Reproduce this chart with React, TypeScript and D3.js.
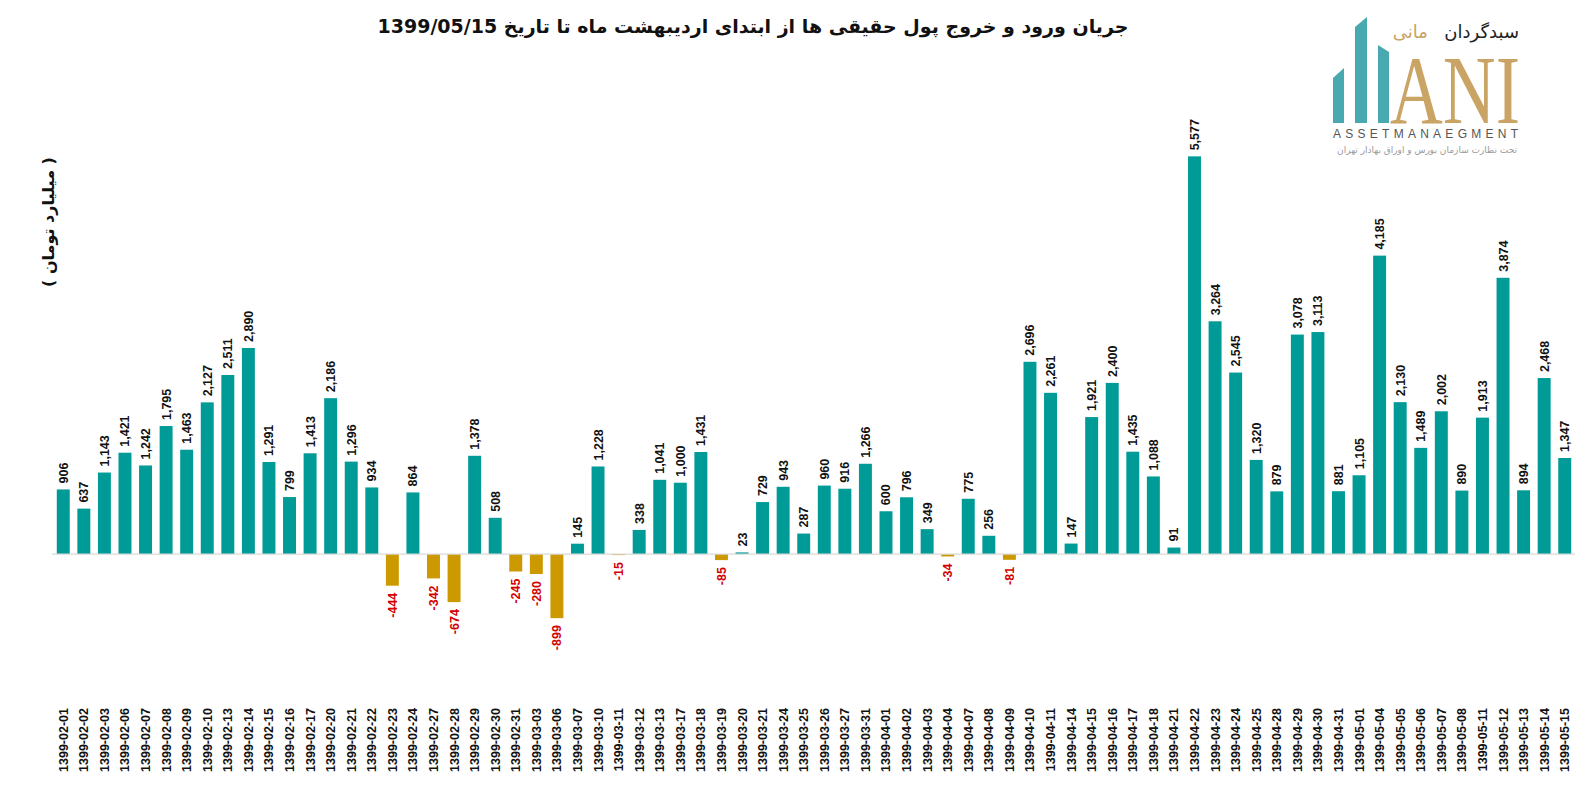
import React, { useEffect, useRef } from "react"
import * as d3 from "d3"

const WIDTH = 1587
const HEIGHT = 791

const dates = [
    "1399-02-01", "1399-02-02", "1399-02-03", "1399-02-06", "1399-02-07", "1399-02-08",
    "1399-02-09", "1399-02-10", "1399-02-13", "1399-02-14", "1399-02-15", "1399-02-16",
    "1399-02-17", "1399-02-20", "1399-02-21", "1399-02-22", "1399-02-23", "1399-02-24",
    "1399-02-27", "1399-02-28", "1399-02-29", "1399-02-30", "1399-02-31", "1399-03-03",
    "1399-03-06", "1399-03-07", "1399-03-10", "1399-03-11", "1399-03-12", "1399-03-13",
    "1399-03-17", "1399-03-18", "1399-03-19", "1399-03-20", "1399-03-21", "1399-03-24",
    "1399-03-25", "1399-03-26", "1399-03-27", "1399-03-31", "1399-04-01", "1399-04-02",
    "1399-04-03", "1399-04-04", "1399-04-07", "1399-04-08", "1399-04-09", "1399-04-10",
    "1399-04-11", "1399-04-14", "1399-04-15", "1399-04-16", "1399-04-17", "1399-04-18",
    "1399-04-21", "1399-04-22", "1399-04-23", "1399-04-24", "1399-04-25", "1399-04-28",
    "1399-04-29", "1399-04-30", "1399-04-31", "1399-05-01", "1399-05-04", "1399-05-05",
    "1399-05-06", "1399-05-07", "1399-05-08", "1399-05-11", "1399-05-12", "1399-05-13",
    "1399-05-14", "1399-05-15",
]

// میلیارد تومان
const flows = [
    906, 637, 1143, 1421, 1242, 1795,
    1463, 2127, 2511, 2890, 1291, 799,
    1413, 2186, 1296, 934, -444, 864,
    -342, -674, 1378, 508, -245, -280,
    -899, 145, 1228, -15, 338, 1041,
    1000, 1431, -85, 23, 729, 943,
    287, 960, 916, 1266, 600, 796,
    349, -34, 775, 256, -81, 2696,
    2261, 147, 1921, 2400, 1435, 1088,
    91, 5577, 3264, 2545, 1320, 879,
    3078, 3113, 881, 1105, 4185, 2130,
    1489, 2002, 890, 1913, 3874, 894,
    2468, 1347,
]

const TITLE = "جریان ورود و خروج پول حقیقی ها از ابتدای اردیبهشت ماه تا تاریخ 1399/05/15"
const Y_LABEL = "( میلیارد تومان )"

const TEAL = "#009b97"
const GOLD = "#cc9a00"
const RED = "#d40000"

const fmt = d3.formatLocale({
    decimal: ".",
    thousands: ",",
    grouping: [3],
    currency: ["", ""],
    minus: "-",
}).format(",")

const App: React.FC = () => {
    const svgRef = useRef<SVGSVGElement | null>(null)

    useEffect(() => {
        if (!svgRef.current) return
        const svg = d3.select(svgRef.current)
        svg.selectAll("*").remove()

        const data = dates.map((d, i) => ({ date: d, value: flows[i] }))

        const x = d3
            .scaleBand<string>()
            .domain(dates)
            .range([52, 1576])
            .paddingInner(0.37)
            .paddingOuter(0.233)

        const y = d3.scaleLinear().domain([-1500, 6000]).range([661, 126.2])

        // title
        svg.append("text")
            .attr("x", 753)
            .attr("y", 33)
            .attr("text-anchor", "middle")
            .attr("direction", "rtl")
            .style("font-family", "'DejaVu Sans', sans-serif")
            .style("font-weight", "bold")
            .style("font-size", "19px")
            .attr("fill", "#111")
            .text(TITLE)

        // y axis label
        svg.append("text")
            .attr("transform", "translate(48,222) rotate(-90)")
            .attr("text-anchor", "middle")
            .attr("direction", "rtl")
            .attr("dy", "0.35em")
            .style("font-family", "'DejaVu Sans', sans-serif")
            .style("font-weight", "bold")
            .style("font-size", "16px")
            .attr("fill", "#111")
            .text(Y_LABEL)

        // bars
        svg.append("g")
            .selectAll("rect")
            .data(data)
            .enter()
            .append("rect")
            .attr("x", d => x(d.date)!)
            .attr("width", x.bandwidth())
            .attr("y", d => y(Math.max(0, d.value)))
            .attr("height", d => Math.abs(y(d.value) - y(0)))
            .attr("fill", d => (d.value < 0 ? GOLD : TEAL))

        // zero line
        svg.append("line")
            .attr("x1", x.range()[0])
            .attr("x2", x.range()[1] - 1)
            .attr("y1", y(0))
            .attr("y2", y(0))
            .attr("stroke", "#d9d9d9")
            .attr("stroke-width", 1.3)

        // value labels
        svg.append("g")
            .selectAll("text")
            .data(data)
            .enter()
            .append("text")
            .attr("transform", d => {
                const cx = x(d.date)! + x.bandwidth() / 2
                const yy = d.value < 0 ? y(d.value) + 7 : y(d.value) - 6
                return `translate(${cx},${yy}) rotate(-90)`
            })
            .attr("text-anchor", d => (d.value < 0 ? "end" : "start"))
            .attr("dy", "0.36em")
            .style("font-family", "'Liberation Sans', Arial, sans-serif")
            .style("font-weight", "bold")
            .style("font-size", "12.5px")
            .attr("fill", d => (d.value < 0 ? RED : "#111"))
            .text(d => fmt(d.value))

        // date labels
        svg.append("g")
            .selectAll("text")
            .data(dates)
            .enter()
            .append("text")
            .attr("transform", d => `translate(${x(d)! + x.bandwidth() / 2},708) rotate(-90)`)
            .attr("text-anchor", "end")
            .attr("dy", "0.36em")
            .style("font-family", "'Liberation Sans', Arial, sans-serif")
            .style("font-weight", "bold")
            .style("font-size", "12.5px")
            .attr("fill", "#111")
            .text(d => d)

        // logo
        const logo = svg.append("g")
        const logoBars = [
            [1333, 78, 1344, 68],
            [1355, 27, 1367, 17],
            [1378, 45, 1389, 52],
        ]
        logoBars.forEach(([x0, t0, x1, t1]) => {
            logo.append("polygon")
                .attr("points", `${x0},123 ${x0},${t0} ${x1},${t1} ${x1},123`)
                .attr("fill", "#48a9b0")
        })
        logo.append("text")
            .attr("x", 1390)
            .attr("y", 123)
            .attr("textLength", 130)
            .attr("lengthAdjust", "spacingAndGlyphs")
            .style("font-family", "'Liberation Serif', serif")
            .style("font-size", "98px")
            .attr("fill", "#c9a465")
            .text("ANI")
        logo.append("text")
            .attr("x", 1519)
            .attr("y", 38)
            .attr("text-anchor", "end")
            .style("font-family", "'DejaVu Sans', sans-serif")
            .style("font-size", "18px")
            .attr("fill", "#222")
            .text("سبدگردان")
        logo.append("text")
            .attr("x", 1428)
            .attr("y", 38)
            .attr("text-anchor", "end")
            .style("font-family", "'DejaVu Sans', sans-serif")
            .style("font-size", "18px")
            .attr("fill", "#c9a465")
            .text("مانی")
        logo.append("text")
            .attr("x", 1333)
            .attr("y", 138)
            .attr("textLength", 185)
            .attr("lengthAdjust", "spacing")
            .style("font-family", "'Liberation Sans', Arial, sans-serif")
            .style("font-size", "12px")
            .attr("fill", "#555")
            .text("ASSETMANAEGMENT")
        logo.append("text")
            .attr("x", 1517)
            .attr("y", 153)
            .attr("text-anchor", "end")
            .style("font-family", "'DejaVu Sans', sans-serif")
            .style("font-size", "9px")
            .attr("fill", "#9a9a9a")
            .text("تحت نظارت سازمان بورس و اوراق بهادار تهران")
    }, [])

    return (
        <svg
            ref={svgRef}
            width={WIDTH}
            height={HEIGHT}
            style={{ display: "block", position: "absolute", left: 0, top: 0, background: "#fff" }}
        />
    )
}

export default App
